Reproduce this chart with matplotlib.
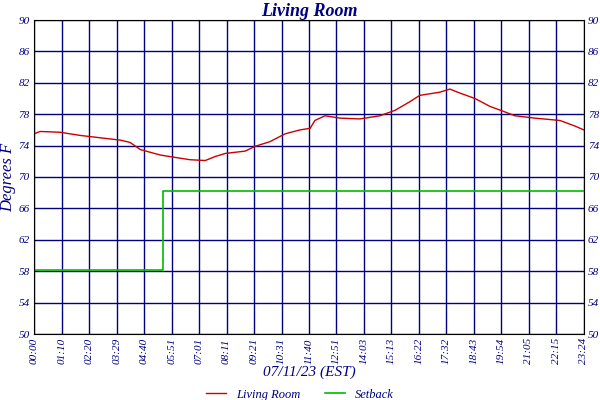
import matplotlib
matplotlib.use('Agg')
import matplotlib.pyplot as plt

# minutes since midnight, temperature readings (deg F)
minutos = [0, 15, 66, 117, 168, 220, 245, 271, 322, 360, 398, 437, 462, 488,
           539, 564, 602, 641, 679, 705, 717, 743, 781, 832, 883, 922, 960,
           985, 1036, 1062, 1087, 1126, 1164, 1202, 1228, 1279, 1343, 1381, 1404]
temp_sala = [75.5, 75.8, 75.7, 75.3, 75.0, 74.7, 74.4, 73.5, 72.8, 72.5, 72.2,
             72.1, 72.6, 73.0, 73.3, 73.9, 74.5, 75.5, 76.0, 76.2, 77.2, 77.8,
             77.5, 77.4, 77.8, 78.5, 79.6, 80.4, 80.8, 81.2, 80.7, 80.0, 79.0,
             78.3, 77.8, 77.5, 77.2, 76.5, 76.0]

setback_t = [0, 329, 329, 1404]
setback_v = [58.2, 58.2, 68.2, 68.2]

rotulos_x = ['00:00', '01:10', '02:20', '03:29', '04:40', '05:51', '07:01',
             '08:11', '09:21', '10:31', '11:40', '12:51', '14:03', '15:13',
             '16:22', '17:32', '18:43', '19:54', '21:05', '22:15', '23:24']
ticks_y = list(range(50, 91, 4))

navy = '#000080'
fonte = 'Liberation Serif'

fig = plt.figure(figsize=(6, 4), dpi=100)
ax = fig.add_axes([0.057, 0.165, 0.916, 0.785])
pos_x = [i * 1404 / 20 for i in range(21)]
ax.set_xlim(0, 1404)
ax.set_ylim(50, 90)
ax.set_xticks(pos_x)
ax.set_xticklabels(rotulos_x, rotation=90, fontsize=8, style='italic',
                   color=navy, family=fonte)
ax.set_yticks(ticks_y)
ax.set_yticklabels([str(v) for v in ticks_y], fontsize=8, style='italic',
                   color=navy, family=fonte)
ax.tick_params(length=0, labelright=True, pad=3)
ax.grid(True, color=navy, linewidth=1)
for s in ax.spines.values():
    s.set_color('black')

ax.plot(minutos, temp_sala, color='#cc0000', linewidth=1, label='Living Room')
ax.plot(setback_t, setback_v, color='#00bb00', linewidth=1.2, label='Setback')

ax.set_title('Living Room', fontsize=13, style='italic', weight='bold',
             color=navy, family=fonte, pad=3)
ax.set_ylabel('Degrees F', fontsize=12, style='italic', color=navy,
              family=fonte, labelpad=2)
ax.set_xlabel('07/11/23 (EST)', fontsize=11, style='italic', color=navy,
              family=fonte, labelpad=1)
leg = fig.legend(loc='lower center', ncol=2, frameon=False,
                 bbox_to_anchor=(0.5, -0.03), handlelength=1.6,
                 prop={'family': fonte, 'style': 'italic', 'size': 9})
for t in leg.get_texts():
    t.set_color(navy)

fig.savefig('out.png', dpi=100)
